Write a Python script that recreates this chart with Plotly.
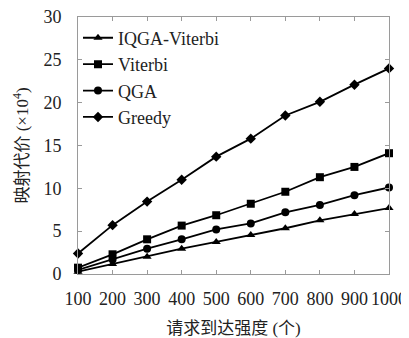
import plotly.graph_objects as go

x = [100, 200, 300, 400, 500, 600, 700, 800, 900, 1000]
iqga = [0.27, 1.17, 2.0, 2.96, 3.74, 4.56, 5.34, 6.27, 7.0, 7.7]
viterbi = [0.74, 2.3, 4.05, 5.65, 6.86, 8.2, 9.6, 11.3, 12.5, 14.1]
qga = [0.47, 1.7, 2.96, 4.05, 5.2, 5.9, 7.2, 8.06, 9.2, 10.1]
greedy = [2.4, 5.7, 8.45, 11.0, 13.7, 15.8, 18.5, 20.1, 22.1, 24.0]

names = ["IQGA-Viterbi", "Viterbi", "QGA", "Greedy"]
series = [iqga, viterbi, qga, greedy]
symbols = ["triangle-up", "square", "circle", "diamond"]
sizes = [8, 8, 8, 8]

fig = go.Figure()
for n, s, sym, sz in zip(names, series, symbols, sizes):
    fig.add_trace(go.Scatter(
        x=x, y=s, name=n, mode="lines+markers",
        line=dict(color="black", width=1.8),
        marker=dict(symbol=sym, size=sz, color="black"),
        cliponaxis=False,
    ))

serif = "'Liberation Serif', 'DejaVu Serif', serif"
cjk = "'Liberation Serif', 'Noto Sans CJK SC', serif"
axis_common = dict(
    showline=True, linecolor="#9a9a9a", linewidth=1, mirror="allticks",
    ticks="inside", ticklen=4, tickcolor="#9a9a9a", showgrid=False, zeroline=False,
    tickfont=dict(family=serif, size=18, color="#222"),
    automargin=False, ticklabeloverflow="allow",
)
# page body adds an 8px offset, so the figure is sized to fit the 409x338 window
fig.update_layout(
    width=401, height=330,
    margin=dict(l=70, r=20, t=9, b=64),
    plot_bgcolor="white", paper_bgcolor="white",
    xaxis=dict(range=[100, 1000], tickvals=x, ticktext=[str(v) for v in x],
               ticklabelstandoff=8, tickangle=0,
               title=dict(text="请求到达强度 (个)", font=dict(family=cjk, size=17, color="#222"), standoff=14),
               **axis_common),
    yaxis=dict(range=[0, 30], tickvals=[0, 5, 10, 15, 20, 25, 30],
               ticklabelstandoff=12,
               title=dict(text="映射代价 (×10<sup>4</sup>)", font=dict(family=cjk, size=17, color="#222"), standoff=10),
               **axis_common),
    legend=dict(x=0.0, y=0.99, xanchor="left", yanchor="top",
                font=dict(family=serif, size=18, color="#222"),
                bgcolor="rgba(0,0,0,0)", tracegroupgap=0, itemwidth=30),
    showlegend=True,
)
fig.write_html("out.html")
